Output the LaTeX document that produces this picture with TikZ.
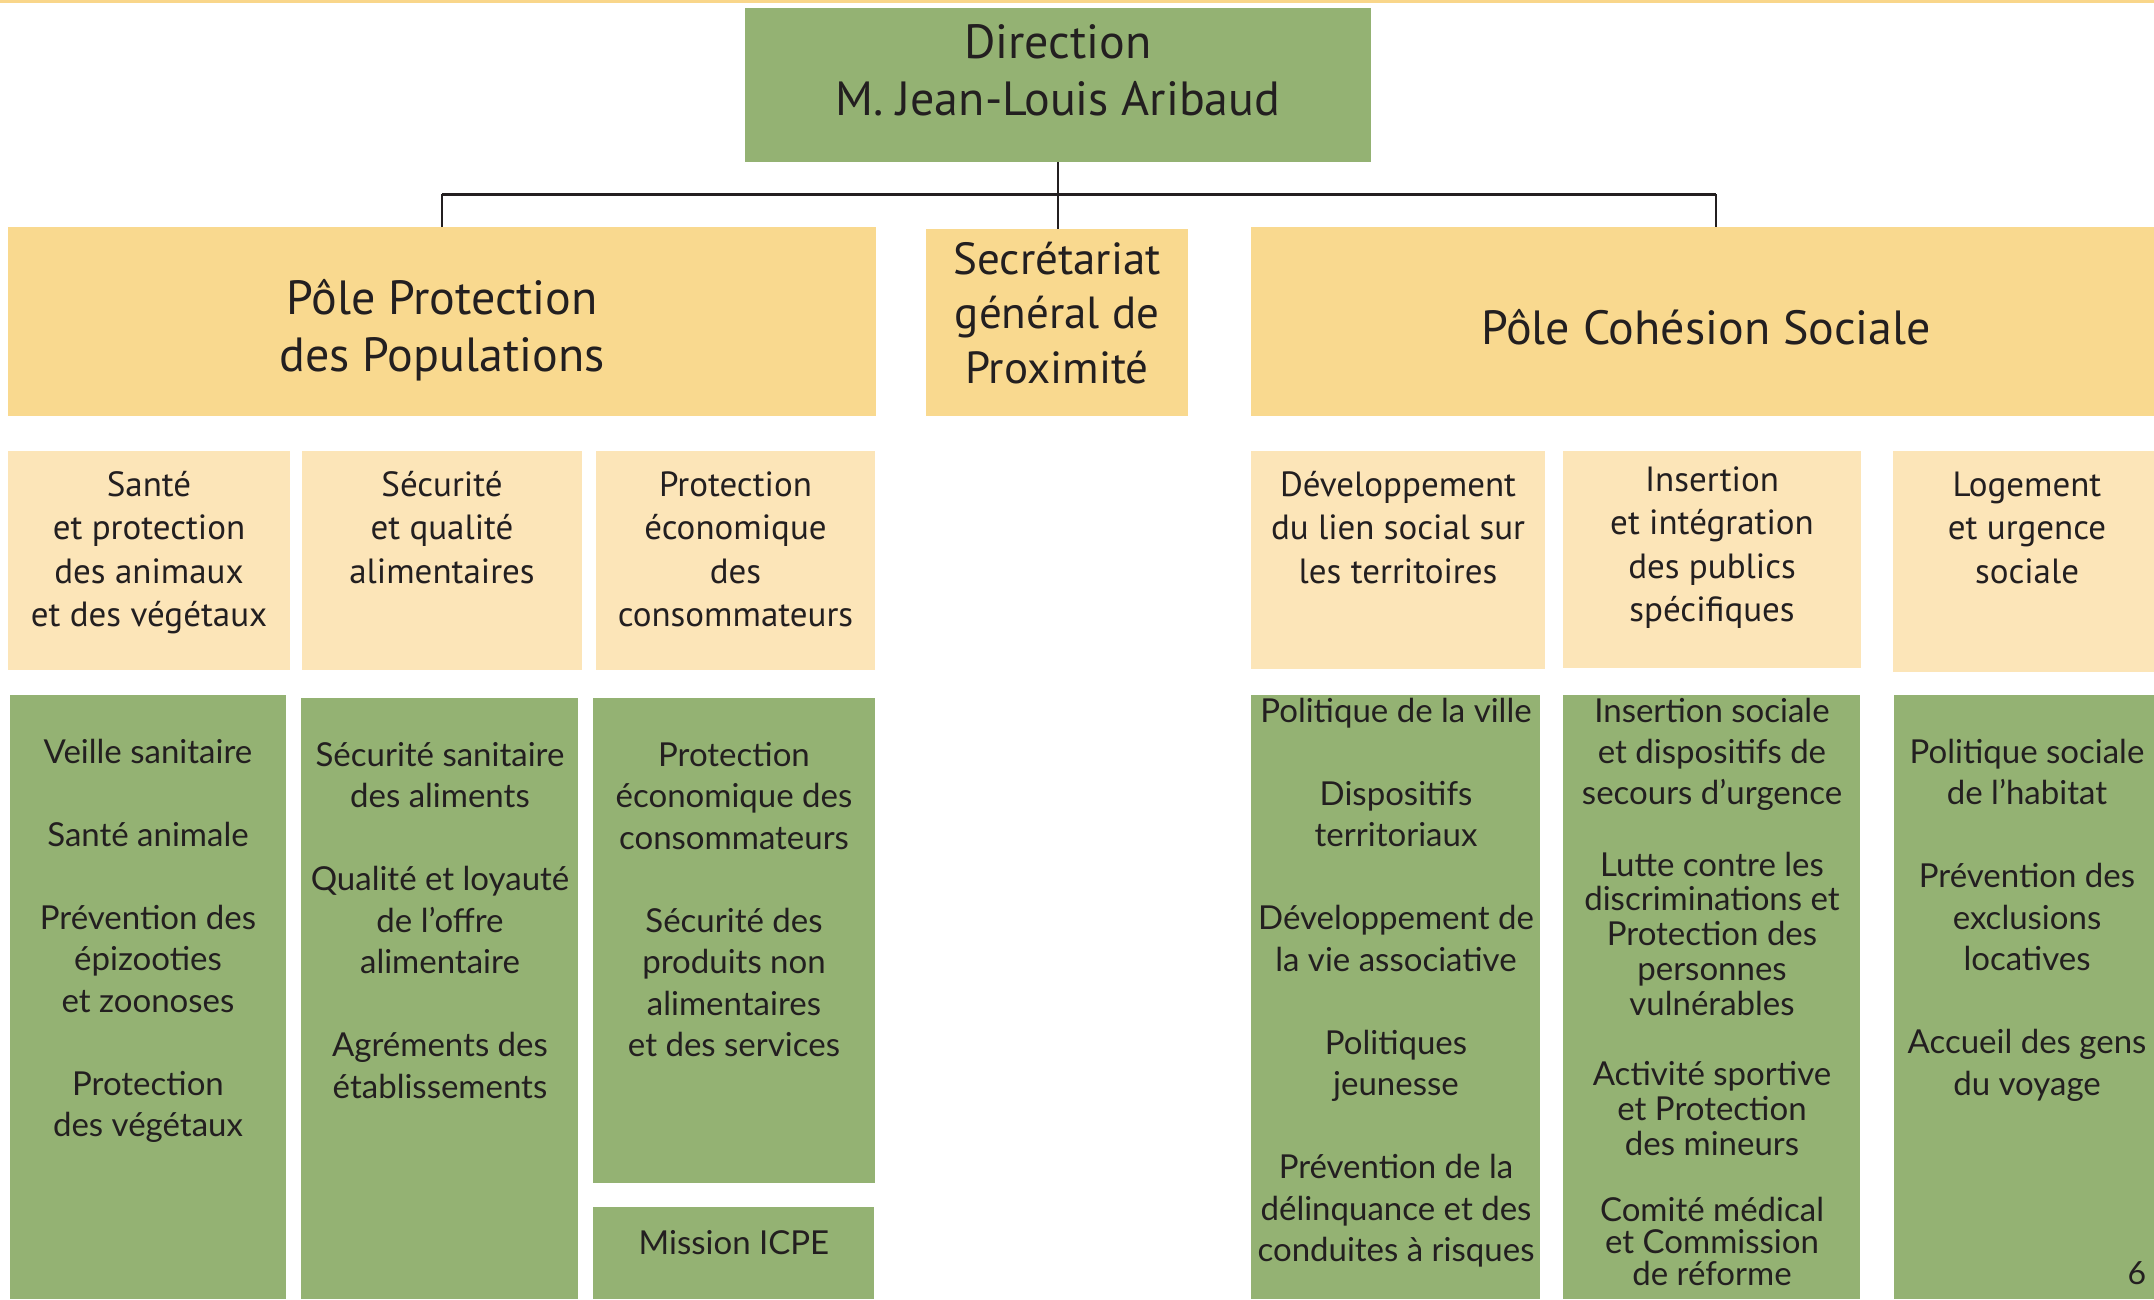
\documentclass[tikz,border=0pt]{standalone}
\usepackage{fontspec}
\setmainfont{Lato}
\newfontfamily\hdrfont{PT Sans}
\definecolor{hdrc}{HTML}{F9D98F}
\definecolor{subc}{HTML}{FCE5B8}
\definecolor{grn}{HTML}{94B273}
\definecolor{txt}{HTML}{231F20}
\definecolor{topc}{HTML}{F9D68A}
\newcommand\fl{\rule{0pt}{1em}}
\begin{document}
\begin{tikzpicture}[x=1pt,y=-1pt,
  box/.style={rectangle, inner sep=0pt, outer sep=0pt, anchor=north west, draw=none},
  darkbox/.style={box, fill=hdrc},
  lightbox/.style={box, fill=subc},
  greenbox/.style={box, fill=grn},
  bigtxt/.style={anchor=north, align=center, inner sep=0pt, text=txt, font=\hdrfont\fontsize{48}{57}\selectfont},
  sectxt/.style={anchor=north, align=center, inner sep=0pt, text=txt, font=\hdrfont\fontsize{45}{54.5}\selectfont},
  subtxt/.style={anchor=north, align=center, inner sep=0pt, text=txt, font=\hdrfont\fontsize{35}{43.5}\selectfont},
  grtxt/.style={anchor=north, align=center, inner sep=0pt, text=txt, font=\fontsize{33}{41.5}\selectfont},
  conn/.style={draw=txt, line width=2pt},
  hbar/.style={draw=txt, line width=3pt}
]
\useasboundingbox (0,0) rectangle (2154,1299);
\fill[topc] (0,0) rectangle (2154,3);

% top level
\node[greenbox, minimum width=626pt, minimum height=154pt] (dir) at (745,8) {};
\node[bigtxt] (dirt) at (1058,10) {\fl Direction\\M. Jean-Louis Aribaud};

\node[darkbox, minimum width=868pt, minimum height=189pt] (ppp) at (8,227) {};
\node[bigtxt] (pppt) at (442,266) {\fl Pôle Protection\\des Populations};

\node[darkbox, minimum width=262pt, minimum height=187pt] (sec) at (926,229) {};
\node[sectxt] (sect) at (1057,229) {\fl Secrétariat\\général de\\Proximité};

\node[darkbox, minimum width=903pt, minimum height=189pt] (pcs) at (1251,227) {};
\node[bigtxt] (pcst) at (1706,296) {\fl Pôle Cohésion Sociale};

% connectors
\coordinate (hr) at (1716,194);
\draw[conn] (dir.south) -- (dir.south |- sec.north);
\draw[hbar] (ppp.north |- hr) -- (hr);
\draw[conn] (ppp.north) -- (ppp.north |- hr);
\draw[conn] (hr) -- (hr |- pcs.north);

% second row
\node[lightbox, minimum width=282pt, minimum height=219pt] (s1) at (8,451) {};
\node[subtxt] (s1t) at (149,461) {\fl Santé\\et protection\\des animaux\\et des végétaux};
\node[lightbox, minimum width=280pt, minimum height=219pt] (s2) at (302,451) {};
\node[subtxt] (s2t) at (442,461) {\fl Sécurité\\et qualité\\alimentaires};
\node[lightbox, minimum width=279pt, minimum height=219pt] (s3) at (596,451) {};
\node[subtxt] (s3t) at (735.5,461) {\fl Protection\\économique\\des\\consommateurs};
\node[lightbox, minimum width=294pt, minimum height=218pt] (s4) at (1251,451) {};
\node[subtxt] (s4t) at (1398,461) {\fl Développement\\du lien social sur\\les territoires};
\node[lightbox, minimum width=298pt, minimum height=217pt] (s5) at (1563,451) {};
\node[subtxt] (s5t) at (1712,456) {\fl Insertion\\et intégration\\des publics\\spécifiques};
\node[lightbox, minimum width=261pt, minimum height=221pt] (s6) at (1893,451) {};
\node[subtxt] (s6t) at (2027,461) {\fl Logement\\et urgence\\sociale};

% third row
\node[greenbox, minimum width=276pt, minimum height=604pt] (g1) at (10,695) {};
\node[grtxt] (g1t) at (148,730) {\fl Veille sanitaire\\[41.5pt]Santé animale\\[41.5pt]Prévention des\\épizooties\\et zoonoses\\[41.5pt]Protection\\des végétaux};
\node[greenbox, minimum width=277pt, minimum height=601pt] (g2) at (301,698) {};
\node[grtxt] (g2t) at (440,733) {\fl Sécurité sanitaire\\des aliments\\[41.5pt]Qualité et loyauté\\de l’offre\\alimentaire\\[41.5pt]Agréments des\\établissements};
\node[greenbox, minimum width=282pt, minimum height=485pt] (g3) at (593,698) {};
\node[grtxt] (g3t) at (734,733) {\fl Protection\\économique des\\consommateurs\\[41.5pt]Sécurité des\\produits non\\alimentaires\\et des services};
\node[greenbox, minimum width=281pt, minimum height=92pt] (g3b) at (593,1207) {};
\node[grtxt] (g3bt) at (734,1221) {\fl Mission ICPE};

\node[greenbox, minimum width=289pt, minimum height=604pt] (g4) at (1251,695) {};
\node[grtxt] (g4t) at (1396,689) {\fl Politique de la ville\\[41.5pt]Dispositifs\\territoriaux\\[41.5pt]Développement de\\la vie associative\\[41.5pt]Politiques\\jeunesse\\[41.5pt]Prévention de la\\délinquance et des\\conduites à risques};

\node[greenbox, minimum width=297pt, minimum height=604pt] (g5) at (1563,695) {};
\node[grtxt, font=\fontsize{33}{41}\selectfont] (g5a) at (1712,689) {\fl Insertion sociale\\et dispositifs de\\secours d’urgence};
\node[grtxt, font=\fontsize{33}{34.7}\selectfont] (g5b) at (1712,843) {\fl Lutte contre les\\discriminations et\\Protection des\\personnes\\vulnérables};
\node[grtxt, font=\fontsize{33}{35}\selectfont] (g5c) at (1712,1052) {\fl Activité sportive\\et Protection\\des mineurs};
\node[grtxt, font=\fontsize{33}{32}\selectfont] (g5d) at (1712,1188) {\fl Comité médical\\et Commission\\de réforme};

\node[greenbox, minimum width=260pt, minimum height=604pt] (g6) at (1894,695) {};
\node[grtxt] (g6t) at (2027,730) {\fl Politique sociale\\de l’habitat\\[41.5pt]Prévention des\\exclusions\\locatives\\[41.5pt]Accueil des gens\\du voyage};

\node[text=txt, font=\fontsize{32}{38}\selectfont, inner sep=0pt] (pg) at (2137,1273) {6};
\end{tikzpicture}
\end{document}
